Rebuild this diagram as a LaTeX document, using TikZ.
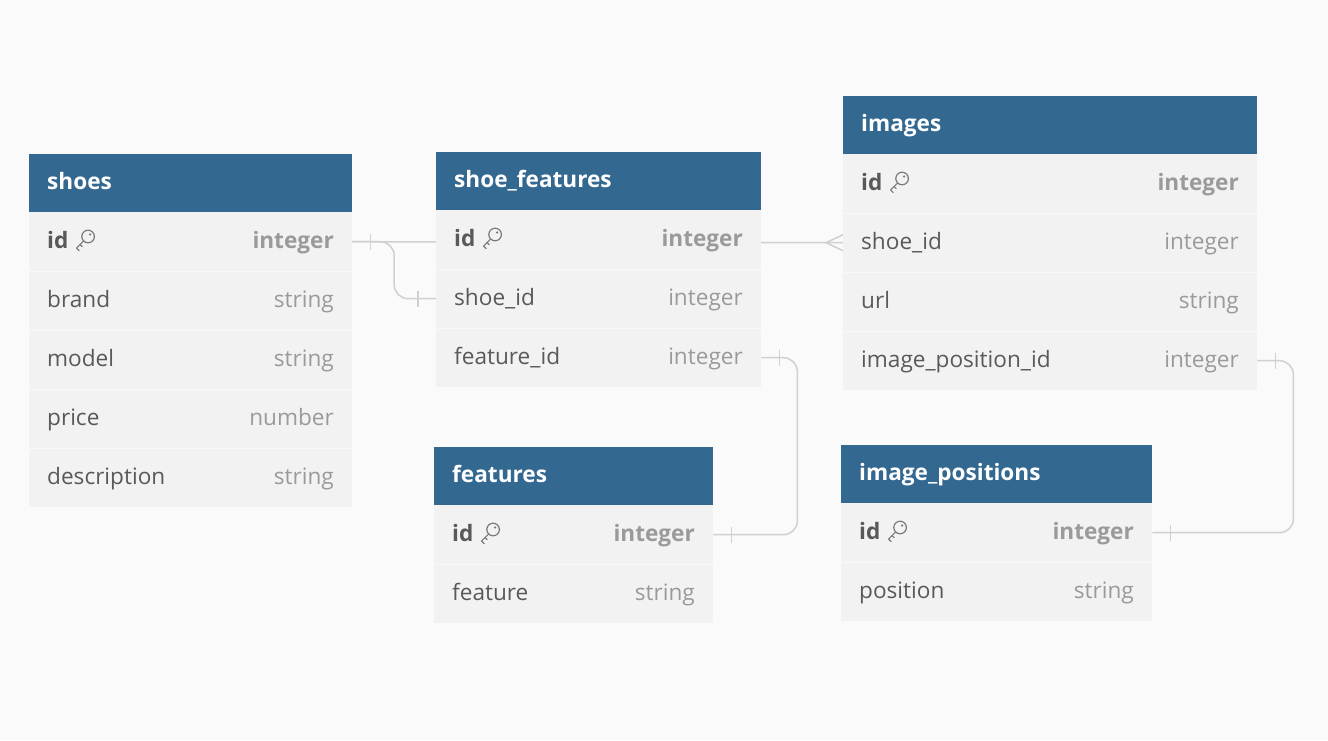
\documentclass[tikz,border=0pt]{standalone}
\usepackage{fontspec}
\setmainfont{Open Sans}
\usetikzlibrary{calc}
\pgfdeclarelayer{bg}
\pgfsetlayers{bg,main}
\definecolor{bgcol}{HTML}{FAFAFA}
\definecolor{hdrblue}{HTML}{336891}
\definecolor{rowgray}{HTML}{F2F2F2}
\definecolor{sepcol}{HTML}{F8F8F8}
\definecolor{namecol}{HTML}{595959}
\definecolor{typecol}{HTML}{9A9A9A}
\definecolor{linkcol}{HTML}{D0D0D0}
\definecolor{keycol}{HTML}{7A7A7A}
\tikzset{
  hdr/.style={fill=hdrblue, draw=none, minimum height=58, inner sep=0, anchor=north west},
  rowbox/.style={fill=rowgray, draw=none, minimum height=59, inner sep=0, anchor=north west},
  htext/.style={text=white, inner sep=0, anchor=base west, font=\fontsize{22.6}{26}\selectfont\bfseries},
  fname/.style={text=namecol, inner sep=0, anchor=base west, font=\fontsize{22.6}{26}\selectfont},
  ftype/.style={text=typecol, inner sep=0, anchor=base east, font=\fontsize{22.6}{26}\selectfont},
  sepline/.style={draw=sepcol, line width=1pt},
  link/.style={draw=linkcol, line width=1.5pt, rounded corners=14},
  tick/.style={draw=linkcol, line width=1.5pt},
  keyicon/.pic={
    \draw[keycol, line width=1.2pt] (3.5,-3.5) circle (6.3pt);
    \fill[keycol] (5.5,-5.5) circle (1.2pt);
    \draw[keycol, line width=1.2pt, line cap=round, line join=round] (-1,1) -- (-8,8) -- (-5.5,10.5);
    \draw[keycol, line width=1.2pt, line cap=round] (-4.5,4.5) -- (-2.5,6.5);
  }
}
\newcommand\ertable[6]{%
  \node[hdr, minimum width=#4] (#1-h) at (#2,#3) {};
  \node[htext] (#1-t) at (#2+18,#3+35.5) {#5};
  \foreach \f/\t [count=\i] in {#6} {
    \pgfmathsetmacro\yy{#3+58+59*(\i-1)}
    \node[rowbox, minimum width=#4] (#1-\i) at (#2,\yy) {};
    \ifnum\i>1 \draw[sepline] (#2,\yy) -- ++(#4,0); \fi
    \ifnum\i=1
      \node[fname, font=\fontsize{22.6}{26}\selectfont\bfseries] (#1-\i-n) at (#2+18,\yy+36) {\f};
      \node[ftype, font=\fontsize{22.6}{26}\selectfont\bfseries] (#1-\i-y) at (#2+#4-18,\yy+36) {\t};
      \pic at ($(#1-\i-n.base east)+(16,-8)$) {keyicon};
    \else
      \node[fname] (#1-\i-n) at (#2+18,\yy+36) {\f};
      \node[ftype] (#1-\i-y) at (#2+#4-18,\yy+36) {\t};
    \fi
  }%
}
\begin{document}
\begin{tikzpicture}[x=1pt,y=-1pt]
\useasboundingbox (0,0) rectangle (1328,740);

\ertable{shoes}{29}{154}{323}{shoes}{id/integer, brand/string, model/string, price/number, description/string}
\ertable{sf}{436}{152}{325}{shoe\_features}{id/integer, shoe\_id/integer, feature\_id/integer}
\ertable{images}{843}{96}{414}{images}{id/integer, shoe\_id/integer, url/string, image\_position\_id/integer}
\ertable{feat}{434}{447}{279}{features}{id/integer, feature/string}
\ertable{ip}{841}{445}{311}{image\_positions}{id/integer, position/string}

\begin{pgfonlayer}{bg}
  \fill[bgcol] (0,0) rectangle (1328,740);
  % images.shoe_id -> shoes.id (passes behind shoe_features)
  \draw[link] (shoes-1.east) -- (images-2.west);
  \draw[tick] ($(shoes-1.east)+(18,-8)$) -- ++(0,16);
  \draw[tick] ($(images-2.west)+(-17,0)$) -- ++(17,-8);
  \draw[tick] ($(images-2.west)+(-17,0)$) -- ++(17,8);
  % shoe_features.shoe_id -> shoes.id
  \draw[link] (shoes-1.east) -| ($(shoes-1.east)!0.5!(sf-2.west)$) |- (sf-2.west);
  \draw[tick] ($(sf-2.west)+(-18,-8)$) -- ++(0,16);
  % shoe_features.feature_id -> features.id
  \draw[link] (sf-3.east) -- ++(36,0) |- (feat-1.east);
  \draw[tick] ($(sf-3.east)+(18,-8)$) -- ++(0,16);
  \draw[tick] ($(feat-1.east)+(18,-8)$) -- ++(0,16);
  % images.image_position_id -> image_positions.id
  \draw[link] (images-4.east) -- ++(36,0) |- (ip-1.east);
  \draw[tick] ($(images-4.east)+(18,-8)$) -- ++(0,16);
  \draw[tick] ($(ip-1.east)+(18,-8)$) -- ++(0,16);
\end{pgfonlayer}
\end{tikzpicture}
\end{document}
